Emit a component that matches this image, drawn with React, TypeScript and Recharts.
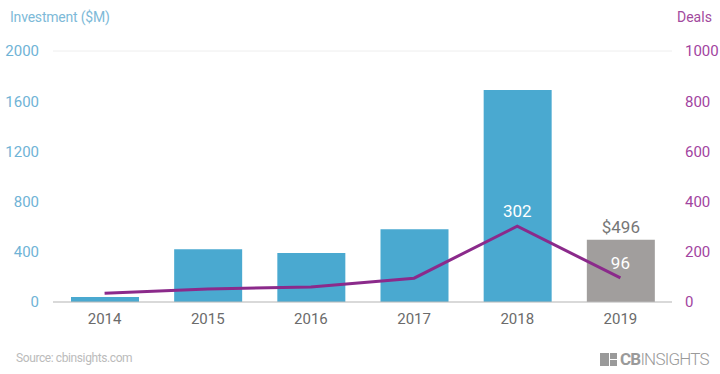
import {
  ComposedChart,
  Bar,
  Line,
  XAxis,
  YAxis,
  CartesianGrid,
  Cell,
  LabelList,
} from 'recharts'

const years = ['2014', '2015', '2016', '2017', '2018', '2019']
const investment = [40, 420, 390, 580, 1690, 496]
const deals = [35, 52, 60, 95, 302, 96]
const investmentLabels = ['', '', '', '', '', '$496']
const dealLabels = ['', '', '', '', '302', '96']
const leftTicks = [0, 400, 800, 1200, 1600, 2000]
const rightTicks = [0, 200, 400, 600, 800, 1000]

const data = years.map((year, i) => ({
  year,
  investment: investment[i],
  deals: deals[i],
  investmentLabel: investmentLabels[i],
  dealLabel: dealLabels[i],
}))

const font = 'Roboto, "Noto Sans", sans-serif'

export default function App() {
  return (
    <div style={{ position: 'absolute', left: 0, top: 0, width: 720, height: 374, background: '#fff', fontFamily: font }}>
      <div style={{ position: 'absolute', left: 10, top: 9, fontSize: 14, letterSpacing: -0.2, color: '#7dbad8' }}>
        Investment ($M)
      </div>
      <div style={{ position: 'absolute', left: 677, top: 9, fontSize: 14, color: '#a24a9e' }}>
        Deals
      </div>
      <ComposedChart
        width={720}
        height={374}
        data={data}
        margin={{ top: 51, right: 0, bottom: 42, left: 0 }}
      >
        <CartesianGrid vertical={false} stroke="#eeeeee" />
        <XAxis
          dataKey="year"
          axisLine={{ stroke: '#bbbbbb' }}
          tickLine={false}
          tickSize={0}
          tickMargin={11}
          height={30}
          tick={{ fill: '#6b6b6b', fontSize: 15, fontFamily: font }}
        />
        <YAxis
          yAxisId="left"
          domain={[0, 2000]}
          ticks={leftTicks}
          width={53}
          axisLine={false}
          tickLine={false}
          tickSize={0}
          tickMargin={14}
          tick={{ fill: '#6fb3d6', fontSize: 15, fontFamily: font }}
        />
        <YAxis
          yAxisId="right"
          orientation="right"
          domain={[0, 1000]}
          ticks={rightTicks}
          width={48}
          axisLine={false}
          tickLine={false}
          tickSize={0}
          tickMargin={13}
          tick={{ fill: '#a2449f', fontSize: 15, fontFamily: font, textAnchor: 'start' }}
        />
        <Bar yAxisId="left" dataKey="investment" barSize={68} isAnimationActive={false}>
          {data.map((d, i) => (
            <Cell key={d.year} fill={i === data.length - 1 ? '#a19e9d' : '#4aa9d0'} />
          ))}
          <LabelList
            dataKey="investmentLabel"
            position="top"
            offset={7}
            fill="#777777"
            fontSize={17}
            fontFamily={font}
          />
        </Bar>
        <Line
          yAxisId="right"
          dataKey="deals"
          stroke="#8b2a8b"
          strokeWidth={3}
          dot={false}
          isAnimationActive={false}
        >
          <LabelList
            dataKey="dealLabel"
            position="top"
            offset={9}
            fill="#ffffff"
            fontSize={17}
            fontFamily={font}
          />
        </Line>
      </ComposedChart>
      <div style={{ position: 'absolute', left: 16, top: 351, fontSize: 12, letterSpacing: -0.4, color: '#bbbbbb' }}>
        Source: cbinsights.com
      </div>
      <div style={{ position: 'absolute', left: 600, top: 349, display: 'flex', alignItems: 'center', color: '#9a9a9a' }}>
        <svg width={17} height={13} style={{ marginRight: 3 }}>
          <rect x={0} y={0} width={9} height={13} fill="#9a9a9a" />
          <rect x={10} y={0} width={7} height={6} fill="#9a9a9a" />
          <rect x={10} y={7} width={7} height={6} fill="#9a9a9a" />
        </svg>
        <span style={{ fontSize: 17, fontWeight: 700, letterSpacing: -0.8 }}>CB</span>
        <span style={{ fontSize: 17, fontWeight: 300, letterSpacing: -0.8 }}>INSIGHTS</span>
      </div>
    </div>
  )
}
